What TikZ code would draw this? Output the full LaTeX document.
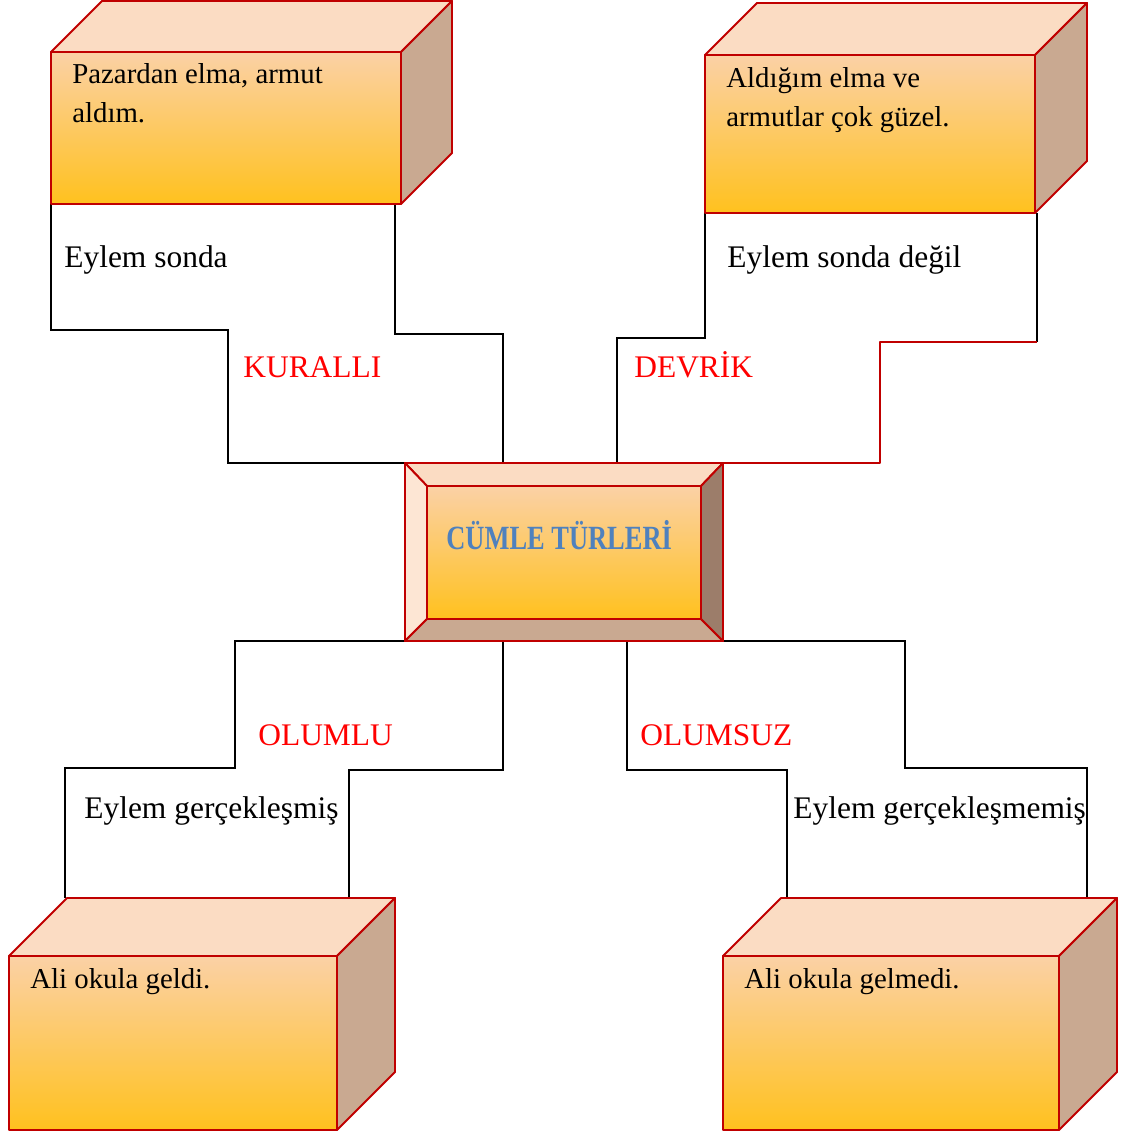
\documentclass[tikz,border=0pt]{standalone}
\usepackage{fontspec}
\setmainfont{Liberation Serif}
\newfontfamily\titlefont[FakeStretch=0.78]{Liberation Serif}
\usetikzlibrary{positioning}

\definecolor{boxred}{HTML}{C00000}
\definecolor{facetop}{HTML}{FBDCC3}
\definecolor{faceside}{HTML}{C9A991}
\definecolor{fronttop}{HTML}{FBD1A6}
\definecolor{frontbot}{HTML}{FFC11E}
\definecolor{bevelleft}{HTML}{FDE6D4}
\definecolor{bevelright}{HTML}{9C7D6A}
\definecolor{titleblue}{HTML}{4F81BD}

% cuboid: x, y (top left of front face), width, height, depth
\newcommand{\cuboid}[5]{%
  \shade[top color=fronttop, bottom color=frontbot] (#1,#2) rectangle ++(#3,#4);
  \draw[boxedge, fill=facetop] (#1,#2) -- ++(#5,-#5) -- ++(#3,0) -- ++(-#5,#5) -- cycle;
  \draw[boxedge, fill=faceside] (#1+#3,#2) -- ++(#5,-#5) -- ++(0,#4) -- ++(-#5,#5) -- cycle;
  \draw[boxedge] (#1,#2) rectangle ++(#3,#4);
}

\tikzset{
  boxedge/.style={draw=boxred, line width=1.1pt, line join=round},
  stairline/.style={black, line width=1.1pt},
  boxtext/.style={anchor=base west, inner sep=0pt, align=left,
                  font=\fontsize{16.4}{22.1}\selectfont},
  labeltext/.style={anchor=base west, inner sep=0pt,
                    font=\fontsize{17.9}{21}\selectfont},
  typetext/.style={labeltext, text=red}
}

\begin{document}
\begin{tikzpicture}[x=0.02cm, y=-0.02cm]
  \useasboundingbox (0,0) rectangle (1121,1133);

  % stairs
  \draw [stairline] (51,204) -- (51,330) -- (228,330) -- (228,463) -- (405,463);
  \draw [stairline] (395,204) -- (395,334) -- (503,334) -- (503,463);
  \draw [stairline] (705,213) -- (705,338) -- (617,338) -- (617,463);
  \draw [stairline] (1037,213) -- (1037,342);
  \draw [boxedge] (1037,342) -- (880,342) -- (880,463) -- (723,463);
  \draw [stairline] (405,641) -- (235,641) -- (235,768) -- (65,768) -- (65,898);
  \draw [stairline] (503,641) -- (503,770) -- (349,770) -- (349,898);
  \draw [stairline] (627,641) -- (627,770) -- (787,770) -- (787,898);
  \draw [stairline] (723,641) -- (905,641) -- (905,768) -- (1087,768) -- (1087,898);

  % boxes
  \cuboid{51}{52}{350}{152}{51}
  \cuboid{705}{55}{330}{158}{52}
  \cuboid{9}{956}{328}{174}{58}
  \cuboid{723}{956}{336}{174}{58}

  % centre
  \draw [boxedge, fill=facetop] (405,463) -- (723,463) -- (701,486) -- (427,486) -- cycle;
  \draw [boxedge, fill=bevelleft] (405,463) -- (427,486) -- (427,619) -- (405,641) -- cycle;
  \draw [boxedge, fill=faceside] (405,641) -- (427,619) -- (701,619) -- (723,641) -- cycle;
  \draw [boxedge, fill=bevelright] (723,463) -- (701,486) -- (701,619) -- (723,641) -- cycle;
  \shade [top color=fronttop, bottom color=frontbot] (427,486) rectangle (701,619);
  \draw [boxedge] (427,486) rectangle (701,619);
  \draw [boxedge] (405,463) rectangle (723,641);

  \node (title) [anchor=base west, inner sep=0pt, text=titleblue,
        font=\titlefont\bfseries\fontsize{19.3}{22}\selectfont] at (446,549) {CÜMLE TÜRLERİ};

  % texts
  \node (kuralli) [boxtext] at (72,122) {Pazardan elma, armut\\aldım.};
  \node (devrik) [boxtext] at (726,126) {Aldığım elma ve\\armutlar çok güzel.};
  \node (olumlu) [boxtext] at (30,988) {Ali okula geldi.};
  \node (olumsuz) [boxtext] at (744,988) {Ali okula gelmedi.};

  \node (k1) [labeltext] at (64,267) {Eylem sonda};
  \node (d1) [labeltext] at (727,267) {Eylem sonda değil};
  \node (o1) [labeltext] at (84,818) {Eylem gerçekleşmiş};
  \node (s1) [labeltext] at (793,818) {Eylem gerçekleşmemiş};

  \node (k2) [typetext] at (243,377) {KURALLI};
  \node (d2) [typetext] at (634,377) {DEVRİK};
  \node (o2) [typetext] at (258,745) {OLUMLU};
  \node (s2) [typetext] at (640,745) {OLUMSUZ};

\end{tikzpicture}
\end{document}
